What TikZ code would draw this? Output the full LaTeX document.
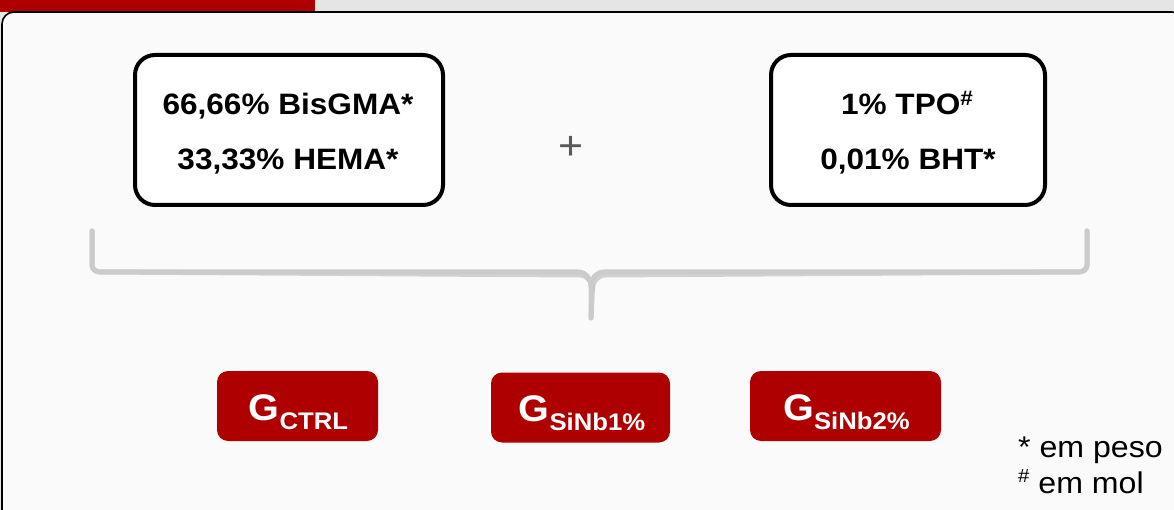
\documentclass[tikz,border=0pt]{standalone}
\usepackage{fontspec}
\setmainfont{Liberation Sans}[FakeStretch=1.07]
\definecolor{dred}{HTML}{AE0000}
\definecolor{bandgray}{HTML}{E5E5E5}
\definecolor{paper}{HTML}{FAFAFA}
\definecolor{bracegray}{HTML}{CBCBCB}
\definecolor{braceshadow}{HTML}{B8B8B8}
\definecolor{plusgray}{HTML}{595959}
\tikzset{
  wbox/.style={draw=black, line width=4pt, rounded corners=20pt, fill=white, inner sep=0pt},
  wtext/.style={font=\bfseries\fontsize{29.5}{55}\selectfont, align=center, anchor=base, inner sep=0pt},
  btn/.style={fill=dred, rounded corners=11pt, inner sep=0pt},
  btntext/.style={text=white, font=\bfseries, anchor=base, inner sep=0pt},
  bracepath/.style={draw=bracegray, line width=5pt, line cap=round, line join=round},
  braceshad/.style={draw=braceshadow, line width=5pt, line cap=round, line join=round, opacity=0.6},
  fntext/.style={font=\fontsize{30}{30}\selectfont, anchor=base west, inner sep=0pt}
}
\newcommand{\gsub}[1]{{\fontsize{37}{37}\selectfont G}{\fontsize{24}{24}\selectfont\raisebox{-9pt}{#1}}}
\begin{document}
\begin{tikzpicture}[x=1pt,y=-1pt]
\useasboundingbox (0,0) rectangle (1174,510);
\fill[bandgray] (0,0) rectangle (1174,510);
\fill[dred] (0,0) rectangle (315,12);
\begin{scope}
\clip (0,0) rectangle (1174,510);
\draw[line width=1.6pt, fill=paper, rounded corners=12pt] (2,12) rectangle (1184,540);
\end{scope}

% top boxes
\node[wbox, minimum width=308pt, minimum height=150pt] (b1) at (289,130) {};
\node[wtext] (t1a) at (288,115) {66,66\% BisGMA*};
\node[wtext] (t1b) at (288,170) {33,33\% HEMA*};

\node[wbox, minimum width=274pt, minimum height=150pt] (b2) at (908,130) {};
\node[wtext] (t2a) at (907,115) {1\% TPO\raisebox{9pt}{\fontsize{21}{21}\selectfont\#}};
\node[wtext] (t2b) at (908,170) {0,01\% BHT*};

\node[text=plusgray, font=\fontsize{40}{40}\selectfont, inner sep=0pt] (plus) at (571,148) {+};

% brace
\coordinate (bl) at (92,231);
\coordinate (br) at (1087,231);
\coordinate (bt) at (591,318);
\begin{scope}[shift={(1.5,3)}]
\draw[braceshad] (bl) -- ++(0,34) to[out=-90,in=180] ++(8,7) -- (578,272) to[out=0,in=90] (591,286) -- (bt);
\draw[braceshad] (br) -- ++(0,34) to[out=-90,in=0] ++(-8,7) -- (604,272) to[out=180,in=90] (591,286);
\end{scope}
\draw[bracepath] (bl) -- ++(0,34) to[out=-90,in=180] ++(8,7) -- (578,272) to[out=0,in=90] (591,286) -- (bt);
\draw[bracepath] (br) -- ++(0,34) to[out=-90,in=0] ++(-8,7) -- (604,272) to[out=180,in=90] (591,286);

% buttons
\node[btn, minimum width=161pt, minimum height=70pt] (g1) at (297.5,406) {};
\node[btntext] (gt1) at (298.5,420) {\gsub{CTRL}};
\node[btn, minimum width=179pt, minimum height=70pt] (g2) at (580.5,407.5) {};
\node[btntext] (gt2) at (582,421) {\gsub{SiNb1\%}};
\node[btn, minimum width=191pt, minimum height=70pt] (g3) at (845.5,406) {};
\node[btntext] (gt3) at (846.5,420) {\gsub{SiNb2\%}};

% footnotes
\node[fntext] (fn1) at (1018,457) {* em peso};
\node[fntext] (fn2) at (1018,493) {\raisebox{11pt}{\fontsize{19}{19}\selectfont\#} em mol};
\end{tikzpicture}
\end{document}
